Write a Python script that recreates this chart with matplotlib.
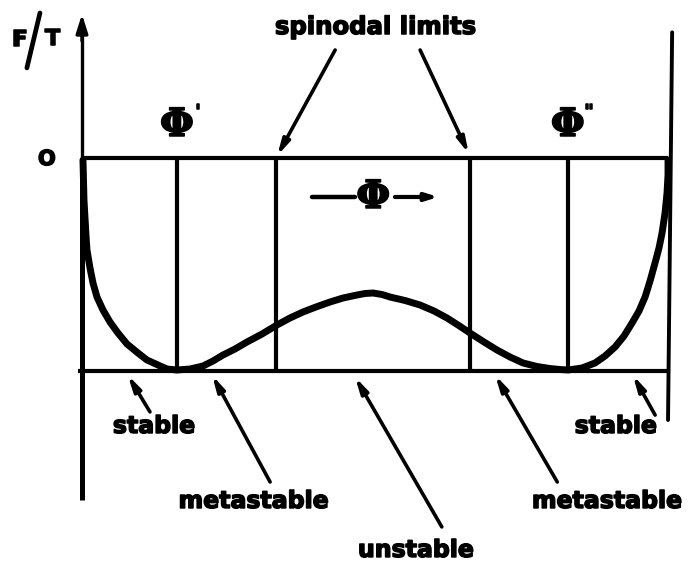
import matplotlib
matplotlib.use("Agg")
import matplotlib.pyplot as plt
import matplotlib.patheffects as pe

# Free energy curve F/T versus composition phi (schematic, two minima)
phi = [0.0017, 0.0034, 0.0068, 0.0085, 0.0137, 0.0188, 0.0256, 0.0358, 0.0478,
       0.0614, 0.0768, 0.0956, 0.1109, 0.1297, 0.1451, 0.1621, 0.1843, 0.2065,
       0.2235, 0.2406, 0.2611, 0.2816, 0.3072, 0.3328, 0.3549, 0.3771, 0.3993,
       0.4232, 0.4454, 0.4693, 0.4829, 0.4966, 0.5119, 0.5256, 0.5512, 0.5768,
       0.6007, 0.6229, 0.6416, 0.6621, 0.6860, 0.7082, 0.7304, 0.7526, 0.7765,
       0.7986, 0.8157, 0.8294, 0.8532, 0.8754, 0.8925, 0.9096, 0.9249, 0.9386,
       0.9505, 0.9608, 0.9693, 0.9778, 0.9846, 0.9898, 0.9949, 0.9983, 1.0000,
       1.0000]
free_energy = [-0.0094, -0.1972, -0.3615, -0.4319, -0.5164, -0.5869, -0.6526,
               -0.7136, -0.7700, -0.8216, -0.8732, -0.9155, -0.9484, -0.9718,
               -0.9906, -0.9953, -0.9906, -0.9765, -0.9531, -0.9249, -0.8967,
               -0.8638, -0.8263, -0.7840, -0.7512, -0.7230, -0.6995, -0.6761,
               -0.6573, -0.6432, -0.6362, -0.6338, -0.6408, -0.6526, -0.6690,
               -0.6901, -0.7183, -0.7512, -0.7840, -0.8216, -0.8638, -0.9014,
               -0.9343, -0.9624, -0.9789, -0.9883, -0.9930, -0.9953, -0.9859,
               -0.9624, -0.9296, -0.8873, -0.8357, -0.7746, -0.7183, -0.6526,
               -0.5775, -0.4930, -0.4225, -0.3521, -0.2582, -0.1643, -0.0798,
               -0.0094]

# Coexisting (binodal) compositions and spinodal limits
binodals = [0.162, 0.829]
spinodals = [0.331, 0.662]
binodal_primes = ["'", '"']
region_labels = ["stable", "metastable", "unstable", "metastable", "stable"]

# Heavy lettering: bold face with a thin outline stroke to thicken it
HEAVY = [pe.withStroke(linewidth=1.1, foreground="black")]
TEXT = dict(family="DejaVu Sans", fontweight="bold", color="black",
            path_effects=HEAVY)
PHI_FONT = dict(family="DejaVu Serif", fontweight="bold", color="black",
                path_effects=HEAVY)

fig = plt.figure(figsize=(6.91, 5.62), dpi=100)
ax = fig.add_axes([0, 0, 1, 1])
ax.set_xlim(-0.1399, 1.0392)
ax.set_ylim(-1.8967, 0.7418)
ax.axis("off")

# Axes frame: F/T axis with arrow, zero line, lower reference line, right edge
ax.plot([0, 0], [-1.606, 0.0], color="black", lw=3.6, solid_capstyle="butt")
ax.plot([0, 0], [0.0, 0.60], color="black", lw=2.4, solid_capstyle="butt")
ax.annotate("", xy=(0, 0.675), xytext=(0, 0.55),
            arrowprops=dict(arrowstyle="-|>,head_length=1.1,head_width=0.35",
                            color="black", lw=2.4, shrinkA=0, shrinkB=0))
ax.plot([0, 1.0], [0, 0], color="black", lw=3.0, solid_capstyle="butt")
ax.plot([-0.007, 1.0], [-1.0, -1.0], color="black", lw=3.0, solid_capstyle="butt")
ax.plot([1.007, 1.0], [0.59, -1.23], color="black", lw=2.8, solid_capstyle="round")

# Vertical lines at binodal and spinodal compositions
for x in binodals + spinodals:
    ax.plot([x, x], [0, -1.0], color="black", lw=3.0, solid_capstyle="butt")

# Free energy curve
ax.plot(phi, free_energy, color="black", lw=5.0, solid_capstyle="round",
        solid_joinstyle="round")

# Axis labels
ax.text(-0.106, 0.555, "F", fontsize=16, ha="center", va="center", **TEXT)
ax.plot([-0.094, -0.0717], [0.423, 0.681], color="black", lw=3.4,
        solid_capstyle="round")
ax.text(-0.050, 0.558, "T", fontsize=16, ha="center", va="center", **TEXT)
ax.text(-0.060, -0.005, "O", fontsize=15, ha="center", va="center", **TEXT)

# Binodal composition labels
for x, prime in zip(binodals, binodal_primes):
    ax.text(x, 0.155, "Φ", fontsize=28, ha="center", va="center", **PHI_FONT)
    ax.text(x + 0.036, 0.215, prime, fontsize=13, ha="center", va="center", **TEXT)

# Unstable region: phase separation arrows around phi
ax.plot([0.392, 0.466], [-0.183, -0.183], color="black", lw=3.2,
        solid_capstyle="round")
ax.annotate("", xy=(0.608, -0.183), xytext=(0.534, -0.183),
            arrowprops=dict(arrowstyle="-|>,head_length=0.7,head_width=0.22",
                            color="black", lw=3.0, shrinkA=0, shrinkB=0))
ax.text(0.497, -0.183, "Φ", fontsize=28, ha="center", va="center", **PHI_FONT)

# Spinodal limits label with arrows
ax.text(0.5, 0.615, "spinodal limits", fontsize=17.5, ha="center", va="center", **TEXT)
ARROW = dict(arrowstyle="-|>,head_length=0.9,head_width=0.22", color="black",
             lw=2.6, shrinkA=0, shrinkB=0)
ax.annotate("", xy=(0.333, 0.01), xytext=(0.432, 0.507), arrowprops=ARROW)
ax.annotate("", xy=(0.660, 0.02), xytext=(0.577, 0.507), arrowprops=ARROW)

# Region labels below the curve
label_pos = [(0.123, -1.258), (0.293, -1.610), (0.570, -1.840),
             (0.896, -1.610), (0.911, -1.258)]
arrow_tail = [(0.116, -1.192), (0.321, -1.521), (0.614, -1.732),
              (0.811, -1.521), (0.978, -1.207)]
arrow_tip = [(0.078, -1.019), (0.222, -1.019), (0.466, -1.028),
             (0.705, -1.019), (0.940, -1.019)]
for lab, pos, tail, tip in zip(region_labels, label_pos, arrow_tail, arrow_tip):
    ax.text(pos[0], pos[1], lab, fontsize=17, ha="center", va="center", **TEXT)
    ax.annotate("", xy=tip, xytext=tail, arrowprops=ARROW)

fig.savefig("out.png", dpi=100, facecolor="white")
